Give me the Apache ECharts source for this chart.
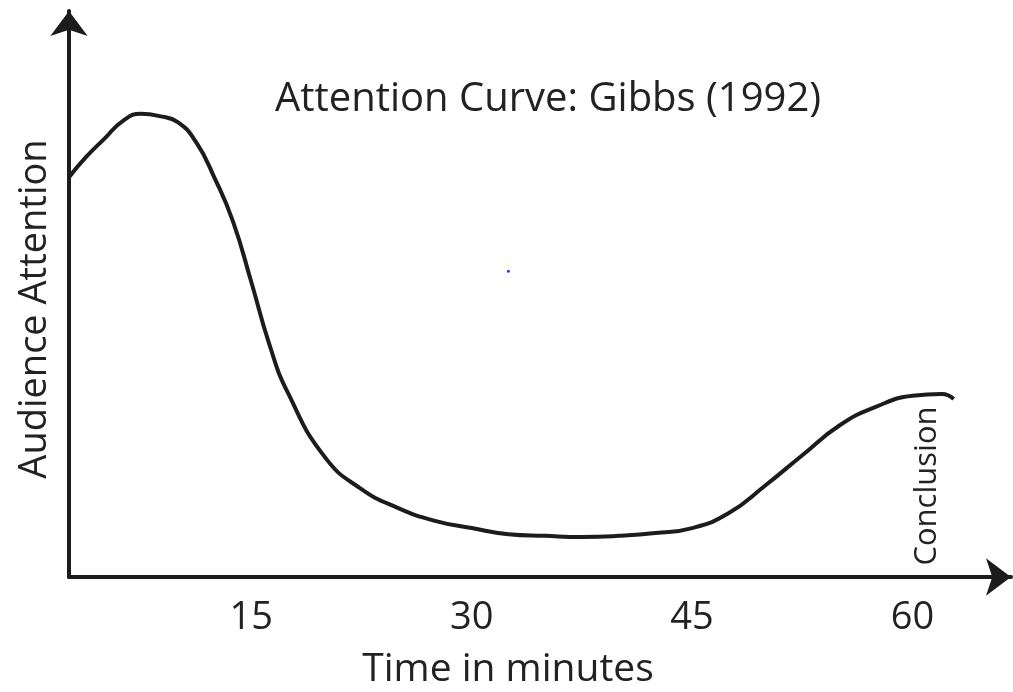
<!DOCTYPE html>
<html>
<head>
<meta charset="utf-8">
<script src="https://cdn.jsdelivr.net/npm/echarts@6/dist/echarts.min.js"></script>
<style>
html,body{margin:0;padding:0;background:#fff;}
#chart{width:1013px;height:692px;}
</style>
</head>
<body>
<div id="chart"></div>
<script>
// Time (minutes) and attention (arbitrary 0-100 scale)
const timeMinutes = [2.6, 3.75, 5, 6.25, 7.5, 8.75, 10, 11.25, 12.5, 13.75, 15, 16.25, 17.5, 20, 22.5, 25, 27.5, 30, 32.5, 35, 37.5, 40, 42.5, 45, 47.5, 50, 52.5, 55, 57.5, 60, 62, 62.8];
const attention   = [71.9, 75.5, 78.8, 82.0, 83.3, 82.9, 81.8, 78.2, 71.8, 64.0, 53.1, 41.7, 33.1, 21.6, 15.8, 12.4, 10.1, 8.8, 7.7, 7.4, 7.2, 7.4, 7.9, 8.8, 11.5, 16.5, 21.9, 27.2, 30.6, 32.6, 32.9, 32.0];
const tickLabels = [15, 30, 45, 60];
const artifactDot = [[32.5, 55.0]];
const titleText = 'Attention Curve: Gibbs (1992)';
const xName = 'Time in minutes';
const yName = 'Audience Attention';
const noteText = 'Conclusion';

const curve = timeMinutes.map((t, i) => [t, attention[i]]);
const FONT = "'Open Sans', 'Noto Sans', sans-serif";
const INK = '#1c1c1c';

const chart = echarts.init(document.getElementById('chart'));
chart.setOption({
  backgroundColor: '#ffffff',
  animation: false,
  grid: { left: 69, right: 2, top: 11, bottom: 115, containLabel: false },
  xAxis: {
    type: 'value', min: 2.6, max: 66.7,
    axisLine: { show: true, symbol: ['none', 'arrow'], symbolSize: [28, 25], lineStyle: { color: INK, width: 4 } },
    axisTick: { show: false },
    splitLine: { show: false },
    axisLabel: { customValues: tickLabels, fontSize: 38, color: '#222', margin: 22, fontFamily: FONT }
  },
  yAxis: {
    type: 'value', min: 0, max: 101.8,
    axisLine: { show: true, symbol: ['none', 'arrow'], symbolSize: [28, 25], lineStyle: { color: INK, width: 4 } },
    axisTick: { show: false },
    splitLine: { show: false },
    axisLabel: { show: false }
  },
  series: [
    {
      type: 'line', data: curve, smooth: 0.5, showSymbol: false,
      lineStyle: { color: INK, width: 4 }, z: 3
    },
    {
      type: 'scatter', data: artifactDot, symbolSize: 3,
      itemStyle: { color: '#0000ff' }
    }
  ],
  graphic: [
    { type: 'text', x: 548, y: 100, style: { text: titleText, fontSize: 40, fontFamily: FONT, fill: '#222', align: 'center', verticalAlign: 'middle' } },
    { type: 'text', x: 508, y: 670, style: { text: xName, fontSize: 39, fontFamily: FONT, fill: '#222', align: 'center', verticalAlign: 'middle' } },
    { type: 'text', x: 35, y: 309, rotation: Math.PI / 2, style: { text: yName, fontSize: 38, fontFamily: FONT, fill: '#222', align: 'center', verticalAlign: 'middle' } },
    { type: 'text', x: 927, y: 486, rotation: Math.PI / 2, style: { text: noteText, fontSize: 31, fontFamily: FONT, fill: '#222', align: 'center', verticalAlign: 'middle' } }
  ]
});
</script>
</body>
</html>
